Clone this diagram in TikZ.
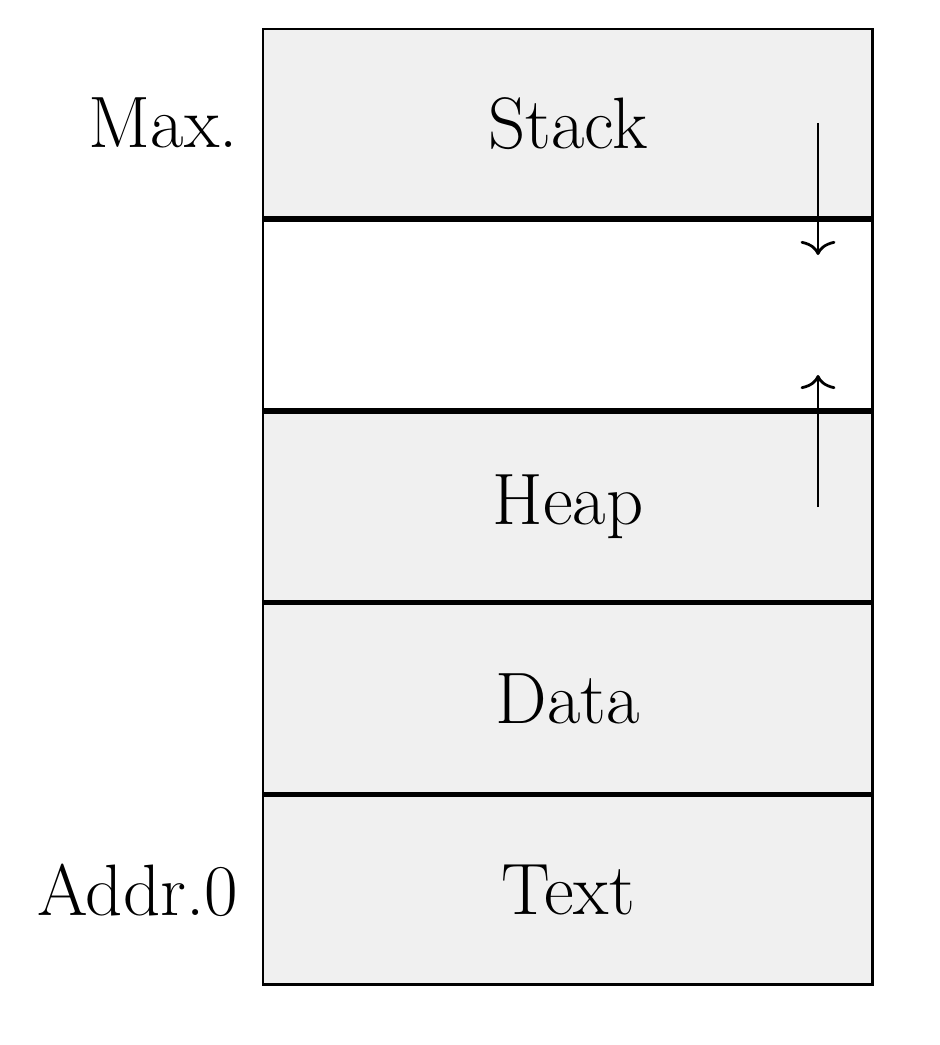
\documentclass[tikz,border=0pt]{standalone}
\usetikzlibrary{positioning,arrows.meta}
\begin{document}
\begin{tikzpicture}[x=0.3266pt,y=-0.3266pt,
  seg/.style={draw,line width=0.9pt,fill=black!6,rectangle,minimum width=199.2pt,minimum height=61.7pt,inner sep=0pt,font=\fontsize{23.8pt}{28pt}\selectfont},
  emptyseg/.style={seg,fill=white},
  lab/.style={font=\fontsize{23.8pt}{28pt}\selectfont,anchor=east,inner sep=7.6pt},
  growarrow/.style={line width=0.9pt,-{Computer Modern Rightarrow[width=11.4pt,length=4.6pt]}}]
\useasboundingbox (0,0) rectangle (939,1045);
\node[seg] (stack) at (567.9,123.4) {Stack};
\node[emptyseg,below=0pt of stack] (free) {};
\node[seg,below=0pt of free] (heap) {Heap};
\node[seg,below=0pt of heap] (data) {Data};
\node[seg,below=0pt of data] (text) {Text};
\node[lab] (max) at (stack.west) {Max.};
\node[lab] (zero) at (text.west) {Addr.0};
\coordinate (s1) at (818,123);
\coordinate (s2) at (818,255);
\coordinate (h1) at (818,507);
\coordinate (h2) at (818,375);
\draw[growarrow] (s1) -- (s2);
\draw[growarrow] (h1) -- (h2);
\end{tikzpicture}
\end{document}
